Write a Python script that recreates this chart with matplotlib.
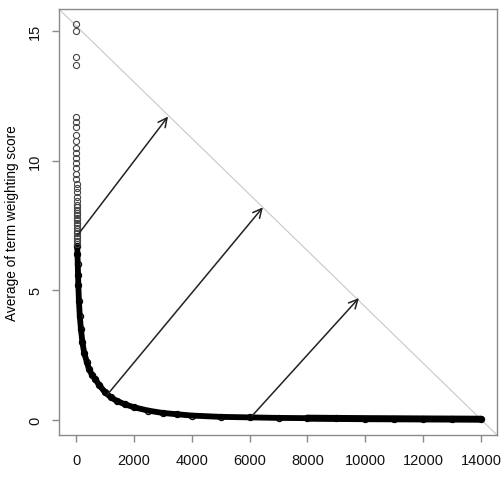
import matplotlib
matplotlib.use("Agg")
import matplotlib.pyplot as plt

plt.rcParams["font.family"] = ["Liberation Sans", "DejaVu Sans"]

# Top-ranked terms, visible as separate circles in the column near x = 0
top_rank = list(range(1, 38))
top_score = [15.25, 15.0, 14.0, 13.7, 11.7, 11.5, 11.3, 11.0, 10.75, 10.5,
             10.3, 10.1, 9.9, 9.7, 9.5, 9.3, 9.1, 8.95, 8.8, 8.6,
             8.45, 8.3, 8.2, 8.1, 8.0, 7.9, 7.8, 7.7, 7.6, 7.5,
             7.4, 7.3, 7.2, 7.1, 7.0, 6.9, 6.8]

# Dense part of the curve (at intervals)
curve_rank = [40, 50, 60, 70, 80, 100, 130, 170, 220, 280,
              370, 450, 550, 657, 800, 1000, 1200, 1400, 1700, 2000,
              2500, 3000, 3500, 4000, 5000, 6000, 7000, 8000, 9000, 10000,
              11000, 12000, 13000, 14000]
curve_score = [6.7, 6.4, 6.0, 5.6, 5.2, 4.6, 4.0, 3.5, 3.0, 2.6,
               2.25, 1.95, 1.75, 1.58, 1.35, 1.07, 0.88, 0.74, 0.6, 0.49,
               0.36, 0.27, 0.22, 0.17, 0.12, 0.1, 0.08, 0.07, 0.06, 0.05,
               0.045, 0.04, 0.035, 0.03]

# arrows drawn on the chart (from curve points towards the diagonal)
arrow_x0 = [70, 1070, 6080]
arrow_y0 = [7.15, 0.96, 0.15]
arrow_x1 = [3180, 6460, 9780]
arrow_y1 = [11.7, 8.2, 4.7]

x_ticks = list(range(0, 14001, 2000))
y_ticks = [0, 5, 10, 15]

fig = plt.figure(figsize=(5.01, 4.85), dpi=100)
ax = fig.add_axes([0.1178, 0.101, 0.8742, 0.878])

# light diagonal from top-left to bottom-right corner
ax.plot([0, 1], [1, 0], transform=ax.transAxes, color="#c8c8c8", lw=0.8)

# dense cloud of points shown as a thick band
ax.plot(curve_rank, curve_score, color="black", lw=4.2, solid_capstyle="round")
ax.plot(curve_rank[-7:], curve_score[-7:], color="black", lw=5.0,
        solid_capstyle="round")
ax.plot(curve_rank, curve_score, "o", mfc="none", mec="black", ms=4.4, mew=0.9)
ax.plot(top_rank, top_score, "o", mfc="none", mec="#444444", ms=4.4, mew=0.8)

for x0, y0, x1, y1 in zip(arrow_x0, arrow_y0, arrow_x1, arrow_y1):
    ax.annotate("", xy=(x1, y1), xytext=(x0, y0),
                arrowprops=dict(arrowstyle="->", color="#222222", lw=1.1,
                                mutation_scale=16, shrinkA=0, shrinkB=0))

ax.set_xlim(-588, 14553)
ax.set_ylim(-0.58, 15.84)
ax.set_xticks(x_ticks)
ax.set_yticks(y_ticks)
ax.set_yticklabels([str(v) for v in y_ticks], rotation=90, va="center")

for s in ax.spines.values():
    s.set_color("#8a8a8a")
    s.set_linewidth(1.0)
ax.tick_params(colors="#8a8a8a", labelcolor="#111111", length=5, width=1,
               labelsize=10.5, pad=8)
ax.tick_params(axis="y", pad=7)
ax.set_ylabel("Average of term weighting score", fontsize=9.8, labelpad=7)

fig.savefig("out.png", dpi=100)
